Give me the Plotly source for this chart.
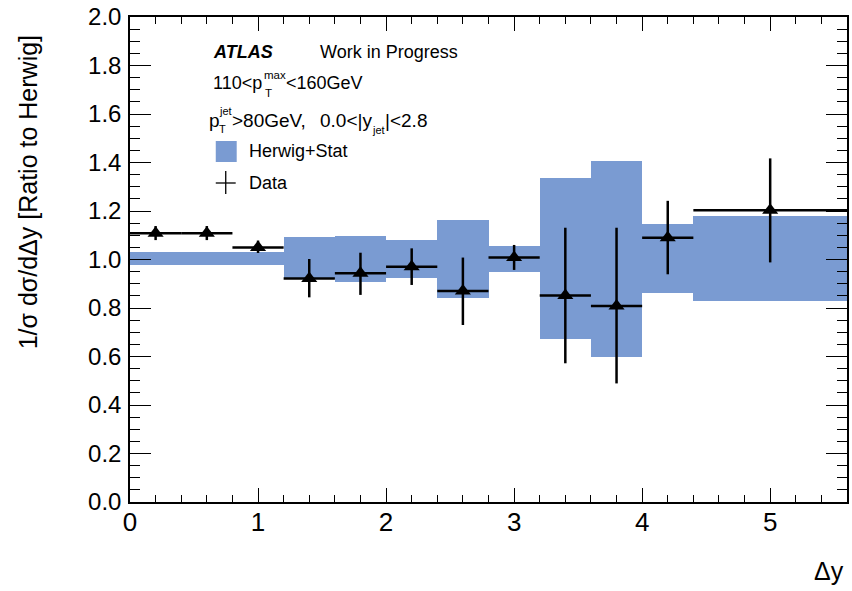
import plotly.graph_objects as go

# Bin edges in Δy
bin_edges = [0.0, 0.4, 0.8, 1.2, 1.6, 2.0, 2.4, 2.8, 3.2, 3.6, 4.0, 4.4, 5.6]

# Herwig + stat. uncertainty band (ratio to Herwig)
band_low = [0.979, 0.979, 0.979, 0.918, 0.908, 0.925, 0.843, 0.950, 0.674, 0.599, 0.862, 0.830]
band_high = [1.031, 1.031, 1.031, 1.094, 1.098, 1.080, 1.163, 1.056, 1.336, 1.406, 1.146, 1.179]

# Data / Herwig ratio with error bars
data_ratio = [1.108, 1.108, 1.050, 0.922, 0.943, 0.970, 0.870, 1.008, 0.852, 0.808, 1.090, 1.203]
data_high = [1.138, 1.138, 1.078, 1.002, 1.028, 1.046, 1.008, 1.060, 1.131, 1.131, 1.242, 1.417]
data_low = [1.080, 1.080, 1.027, 0.844, 0.854, 0.895, 0.730, 0.957, 0.572, 0.489, 0.939, 0.988]

centers = [(a + b) / 2 for a, b in zip(bin_edges[:-1], bin_edges[1:])]
widths = [b - a for a, b in zip(bin_edges[:-1], bin_edges[1:])]

BAND_COLOR = "rgb(122,155,210)"
FONT = "Liberation Sans, Arial, Helvetica, sans-serif"

fig = go.Figure()

fig.add_trace(go.Bar(
    x=centers, width=widths, base=band_low,
    y=[h - l for h, l in zip(band_high, band_low)],
    marker=dict(color=BAND_COLOR, line=dict(width=0)),
    showlegend=False, hoverinfo="skip",
))

fig.add_trace(go.Scatter(
    x=centers, y=data_ratio, mode="markers",
    marker=dict(symbol="triangle-up", size=14, color="black"),
    error_y=dict(type="data", symmetric=False,
                 array=[h - v for h, v in zip(data_high, data_ratio)],
                 arrayminus=[v - l for v, l in zip(data_ratio, data_low)],
                 color="black", thickness=2.5, width=0),
    error_x=dict(type="data", array=[w / 2 for w in widths],
                 color="black", thickness=2.5, width=0),
    showlegend=False, hoverinfo="skip",
))

# plot frame in pixels
L, R, T, B = 130, 849, 17, 502
W, H = 852, 591


def px(x):
    return (x - L) / (R - L)


def py(y):
    return (B - y) / (B - T)


def label(text, x, y, size=18, **kw):
    fig.add_annotation(text=text, xref="paper", yref="paper", x=px(x), y=py(y),
                       xanchor=kw.pop("xanchor", "left"), yanchor=kw.pop("yanchor", "middle"),
                       showarrow=False, font=dict(family=FONT, size=size, color="black"), **kw)


label("<b><i>ATLAS</i></b>", 211, 52)
label("Work in Progress", 319, 52)

label("110<p", 211, 83)
label("max", 262, 75, size=11.5)
label("T", 263, 93, size=11.5)
label("<160GeV", 284, 83)

label("p", 207, 120, size=19)
label("jet", 217, 111, size=11)
label("T", 217, 129, size=11)
label(">80GeV,", 230, 120, size=19)
label("0.0<|y", 319, 120, size=19)
label("jet", 371, 130, size=11)
label("|<2.8", 384, 120, size=19)

label("Herwig+Stat", 247, 151)
label("Data", 247, 183)

label("1/σ dσ/dΔy [Ratio to Herwig]", 28, 192, size=25,
      xanchor="center", yanchor="middle", textangle=-90)
label("Δy", 848, 571, size=25, xanchor="right")

# legend symbols
fig.add_shape(type="rect", xref="paper", yref="paper",
              x0=px(216), x1=px(237), y0=py(162), y1=py(141),
              fillcolor=BAND_COLOR, line=dict(width=0))
fig.add_shape(type="line", xref="paper", yref="paper",
              x0=px(216), x1=px(236), y0=py(183), y1=py(183),
              line=dict(color="black", width=1.3))
fig.add_shape(type="line", xref="paper", yref="paper",
              x0=px(226), x1=px(226), y0=py(171), y1=py(194),
              line=dict(color="black", width=1.3))

fig.update_xaxes(
    range=[0, 5.6], tickmode="linear", tick0=0, dtick=1,
    ticks="inside", ticklen=14, tickwidth=1, tickcolor="black",
    minor=dict(dtick=0.2, ticks="inside", ticklen=7, tickwidth=1, tickcolor="black"),
    showline=True, linecolor="black", linewidth=1.5, mirror="ticks",
    showgrid=False, zeroline=False, ticklabelstandoff=-4,
    tickfont=dict(family=FONT, size=26, color="black"),
)
fig.update_yaxes(
    range=[0, 2.0], tickmode="linear", tick0=0, dtick=0.2, tickformat=".1f",
    ticks="inside", ticklen=21, tickwidth=1, tickcolor="black",
    minor=dict(dtick=0.05, ticks="inside", ticklen=10, tickwidth=1, tickcolor="black"),
    showline=True, linecolor="black", linewidth=1.5, mirror="ticks",
    showgrid=False, zeroline=False, ticklabelstandoff=2,
    tickfont=dict(family=FONT, size=24, color="black"),
)

fig.update_layout(
    width=W, height=H,
    margin=dict(l=L, r=W - R, t=T, b=H - B),
    plot_bgcolor="white", paper_bgcolor="white",
    bargap=0, barmode="overlay",
    font=dict(family=FONT),
)

fig.write_html("out.html")
